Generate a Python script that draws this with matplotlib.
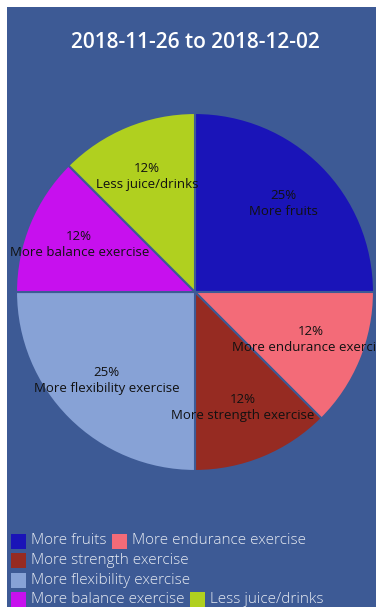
import matplotlib
matplotlib.use("Agg")
import matplotlib.pyplot as plt
from matplotlib.patches import Rectangle

BG = "#3D5A95"

title = "2018-11-26 to 2018-12-02"
names = ["More fruits", "More endurance exercise", "More strength exercise",
         "More flexibility exercise", "More balance exercise", "Less juice/drinks"]
counts = [2, 1, 1, 2, 1, 1]
colors = ["#1A14B8", "#F36B78", "#962B22", "#87A2D6", "#C710EE", "#B0D01F"]

W, H = 376, 610
fig = plt.figure(figsize=(W / 100, H / 100), dpi=100)
fig.patch.set_facecolor("white")
fig.patches.append(Rectangle((7 / W, 3 / H), 1, 1 - 10 / H, transform=fig.transFigure,
                             facecolor=BG, edgecolor="none", zorder=-5))

fig.text(195 / W, 1 - 43 / H, title, ha="center", va="center", color="white",
         fontsize=15, fontfamily="Open Sans", fontweight="semibold")

# pie, centre (195, 292) px, radius 179 px
cx, cy, r = 195, 292, 179
ax = fig.add_axes([(cx - r) / W, (H - cy - r) / H, 2 * r / W, 2 * r / H])

total = sum(counts)
labels = [f"{int(100 * c / total)}%\n{n}" for c, n in zip(counts, names)]
wedges, texts = ax.pie(counts, colors=colors, labels=labels, startangle=90,
                       counterclock=False, radius=1, labeldistance=0.70,
                       wedgeprops=dict(edgecolor=BG, linewidth=1.5),
                       textprops=dict(fontsize=9.5, color="#111111", fontfamily="Open Sans",
                                      linespacing=1.3))
ax.set_xlim(-1, 1)
ax.set_ylim(-1, 1)
ax.set_axis_off()
for t in texts:
    t.set_ha("center")
    t.set_va("center")
    t.set_multialignment("center")
    t.set_clip_on(False)

# legend laid out as wrapping rows
fig.canvas.draw()
renderer = fig.canvas.get_renderer()
x, y = 11, 541
box, gap, item_gap, row_h, right = 15, 5, 5, 19.5, 362
for name, col in zip(names, colors):
    t = fig.text(0, 0, name, fontsize=11, color="#E6EAF2", fontfamily="Open Sans",
                 fontweight="light", va="center", ha="left")
    tw = t.get_window_extent(renderer).width
    if x > 11 and x + box + gap + tw > right:
        x = 11
        y += row_h
    fig.patches.append(Rectangle((x / W, 1 - (y + box / 2) / H), box / W, box / H,
                                 transform=fig.transFigure, facecolor=col, edgecolor="none"))
    t.set_position(((x + box + gap) / W, 1 - y / H))
    x += box + gap + tw + item_gap

fig.savefig("out.png", dpi=100, facecolor=fig.get_facecolor())
